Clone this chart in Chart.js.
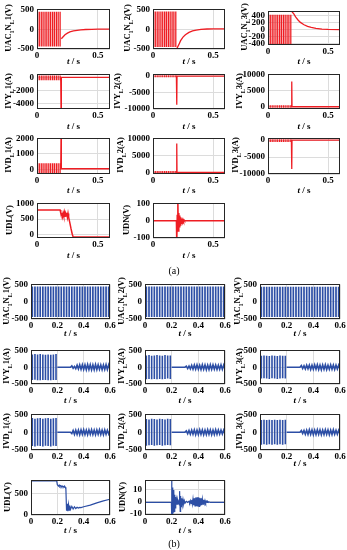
<!DOCTYPE html>
<html>
<head>
<meta charset="utf-8">
<script src="https://cdn.jsdelivr.net/npm/chart.js@4"></script>
<style>
  body { margin: 0; width: 347px; height: 550px; position: relative; background: #fff; overflow: hidden;
         font-family: "Liberation Serif", "Times New Roman", serif; font-weight: bold; color: #000; }
  canvas { position: absolute; }
  .yl { position: absolute; transform: translate(-50%, -50%) rotate(-90deg); white-space: nowrap; font-size: 8.5px; }
  .yl sub { font-size: 6px; }
  .xl { position: absolute; transform: translate(-50%, -50%); font-size: 9px; white-space: nowrap; }
  .cap { position: absolute; transform: translate(-50%, -50%); font-size: 10px; font-weight: normal; }
</style>
</head>
<body>
<script>
// ---------- (a) data ----------
// switching bursts before the fault: one [low, high] swing per time
const barTA = [0.004,0.019,0.035,0.05,0.066,0.081,0.097,0.112,0.128,0.143,0.159,0.174,0.19];
const uac1BarA = [-440, 440];
const uac2BarA = [-450, 450];
const uac3BarA = [-430, 430];
const ivy1BarA = [-450, 300];
const ivy2BarA = [-350, 250];
const ivy3BarA = [-300, 450];
const ivd1BarA = [-300, 400];
const ivd2BarA = [-300, 400];
const ivd3BarA = [-550, 250];

const uac1TailA = [[0.2,-240],[0.215,-190],[0.23,-140],[0.25,-100],[0.27,-70],[0.3,-45],[0.33,-28],[0.36,-17],[0.4,-8],[0.45,-3],[0.5,0],[0.6,0]];
const uac2TailA = [[0.2,-480],[0.215,-390],[0.23,-290],[0.25,-200],[0.27,-140],[0.3,-80],[0.33,-45],[0.36,-22],[0.4,-5],[0.45,5],[0.5,8],[0.6,8]];
const uac3TailA = [[0.2,520],[0.215,460],[0.23,370],[0.25,280],[0.27,210],[0.3,140],[0.33,95],[0.36,62],[0.4,35],[0.45,15],[0.5,6],[0.6,0]];
const ivy1TailA = [[0.195,0],[0.198,-6000],[0.2,0],[0.6,0]];
const ivy2TailA = [[0.195,0],[0.198,-8700],[0.2,0],[0.6,0]];
const ivy3TailA = [[0.195,0],[0.198,7800],[0.2,0],[0.6,0]];
const ivd1TailA = [[0.195,0],[0.198,2600],[0.2,40],[0.6,40]];
const ivd2TailA = [[0.195,0],[0.198,8500],[0.2,0],[0.6,0]];
const ivd3TailA = [[0.195,0],[0.198,-8500],[0.2,0],[0.6,0]];
const udlA = [[0,790],[0.19,790],[0.195,700],[0.2,620],[0.205,700],[0.21,580],[0.215,690],[0.22,600],[0.225,710],[0.23,570],[0.235,680],[0.24,600],[0.245,700],[0.25,560],[0.255,680],[0.26,560],[0.27,380],[0.28,190],[0.29,20],[0.297,-65],[0.6,-65]];
const udnA = [[0,0],[0.195,0],[0.198,-130],[0.202,30],[0.207,130],[0.211,-60],[0.215,45],[0.219,-35],[0.223,30],[0.227,-25],[0.231,20],[0.235,-15],[0.24,12],[0.245,-8],[0.25,6],[0.255,-4],[0.26,3],[0.265,-1],[0.27,0],[0.6,0]];

// ---------- (b) data ----------
const barTB = [0.01,0.03,0.05,0.07,0.09,0.11,0.13,0.15,0.17,0.19,0.21,0.23,0.25,0.27,0.29,0.31,0.33,0.35,0.37,0.39,0.41,0.43,0.45,0.47,0.49,0.51,0.53,0.55,0.57,0.59];
const uac1BarB = [-440, 440];
const uac2BarB = [-440, 440];
const uac3BarB = [-440, 430];

const barTIB = [0.01,0.03,0.05,0.07,0.09,0.11,0.13,0.15,0.17,0.19];
const ivy1LoB = [-380,-370,-390,-390,-380,-380,-390,-390,-380,-380];
const ivy1HiB = [380,390,380,390,380,370,380,370,380,390];
const ivy2LoB = [-360,-350,-360,-350,-360,-350,-360,-350,-340,-350];
const ivy2HiB = [350,360,340,350,360,350,340,360,350,350];
const ivy3LoB = [-340,-330,-340,-350,-330,-340,-350,-340,-330,-340];
const ivy3HiB = [340,350,340,330,350,340,330,350,340,340];
const ivd1LoB = [-390,-400,-380,-390,-400,-380,-390,-400,-380,-390];
const ivd1HiB = [400,380,390,400,380,390,400,380,390,400];
const ivd2LoB = [-380,-370,-360,-380,-370,-360,-380,-370,-360,-370];
const ivd2HiB = [370,360,380,370,360,380,370,360,380,370];
const ivd3LoB = [-350,-340,-350,-340,-350,-340,-350,-340,-350,-340];
const ivd3HiB = [340,350,340,350,340,350,340,350,340,350];

const tTailIB = [0.2,0.3,0.31,0.32,0.33,0.34,0.35,0.36,0.37,0.38,0.39,0.4,0.41,0.42,0.43,0.44,0.45,0.46,0.47,0.48,0.49,0.5,0.51,0.52,0.53,0.54,0.55,0.56,0.57,0.58,0.59,0.6];
const ivy1TailB = [0,0,40,-30,20,-45,60,-55,70,-65,75,-70,70,-75,80,-70,75,-80,70,-75,80,-70,75,-65,70,-75,65,-70,75,-70,70,-65];
const ivy2TailB = [0,0,30,-40,35,-50,55,-60,65,-60,70,-65,60,-70,75,-65,70,-75,65,-70,75,-65,70,-60,65,-70,60,-65,70,-65,60,-60];
const ivy3TailB = [0,0,50,-40,45,-55,60,-50,65,-70,60,-65,70,-60,75,-70,65,-75,70,-65,75,-70,60,-65,70,-60,65,-70,60,-55,60,-50];
const ivd1TailB = [0,0,-40,50,-60,55,-65,60,-70,65,-60,70,-65,60,-70,65,-60,70,-65,60,-70,65,-60,70,-65,60,-70,65,-60,55,-50,50];
const ivd2TailB = [0,0,35,-45,50,-55,60,-60,65,-70,60,-65,70,-60,65,-70,60,-65,70,-60,65,-70,60,-65,70,-60,65,-55,60,-50,55,-50];
const ivd3TailB = [0,0,45,-35,50,-60,55,-65,70,-60,65,-70,60,-65,70,-60,65,-70,60,-65,70,-60,65,-70,60,-65,70,-60,55,-60,50,-45];

const udlB = [[0,790],[0.195,790],[0.2,700],[0.205,680],[0.21,670],[0.215,690],[0.22,660],[0.225,680],[0.23,670],[0.235,650],[0.24,670],[0.245,660],[0.25,650],[0.255,670],[0.26,640],[0.265,600],[0.27,100],[0.275,260],[0.28,90],[0.285,240],[0.29,110],[0.295,220],[0.3,130],[0.31,200],[0.32,140],[0.33,190],[0.34,150],[0.35,180],[0.36,160],[0.37,175],[0.38,170],[0.4,190],[0.45,230],[0.5,280],[0.55,325],[0.6,365]];
const udnB = [[0,-0.5],[0.198,-0.5],[0.2,25],[0.202,-15],[0.205,12],[0.208,-11],[0.211,10],[0.214,-9],[0.217,10],[0.22,-8],[0.223,6],[0.226,-5],[0.229,4],[0.232,-3],[0.236,2],[0.24,-2],[0.245,1.5],[0.25,-1],[0.255,1],[0.258,-3],[0.261,9],[0.264,-8],[0.267,5],[0.27,-4],[0.275,3],[0.28,-2.5],[0.285,2],[0.29,-1.5],[0.295,1],[0.3,-1],[0.31,0.5],[0.32,-0.5],[0.33,0.5],[0.335,-0.8],[0.34,1],[0.345,-1.3],[0.35,1.6],[0.355,-2],[0.36,2.4],[0.365,-2.8],[0.37,3.1],[0.375,-3.4],[0.38,3.6],[0.385,-3.7],[0.39,3.8],[0.395,-3.8],[0.4,3.8],[0.405,-3.7],[0.41,3.5],[0.415,-3.3],[0.42,3],[0.425,-2.7],[0.43,2.4],[0.435,-2],[0.44,1.7],[0.445,-1.4],[0.45,1.1],[0.455,-0.9],[0.46,0.6],[0.465,-0.5],[0.47,0.3],[0.475,-0.4],[0.48,0],[0.49,-0.5],[0.5,-0.5],[0.6,-0.5]];

const xTicksA = [0, 0.5];
const xTicksB = [0, 0.2, 0.4, 0.6];

// ---------- drawing ----------
Chart.defaults.font.family = '"Liberation Serif", "Times New Roman", serif';
Chart.defaults.font.weight = 'bold';
Chart.defaults.font.size = 9;
Chart.defaults.color = '#000';

const red = '#ee1d23', blue = '#2c4ea5';
const YW = 40, PT = 6, PR = 10, XH = 14;

function zip(t, v) { return t.map((x, i) => ({ x, y: v[i] })); }
function pairs(p) { return p.map(([x, y]) => ({ x, y })); }
// one vertical swing per time, separated by a gap (null) so bursts stay apart
function bars(ts, lo, hi) {
  const out = [];
  ts.forEach((t, i) => {
    const a = Array.isArray(lo) ? lo[i] : lo, b = Array.isArray(hi) ? hi[i] : hi;
    out.push({ x: t, y: a }, { x: t, y: b }, { x: t, y: null });
  });
  return out;
}

const frame = {
  id: 'frame',
  afterDatasetsDraw(ch) {
    const a = ch.chartArea, c = ch.ctx;
    c.save();
    c.strokeStyle = '#262626';
    c.lineWidth = 1;
    c.strokeRect(Math.round(a.left) + 0.5, Math.round(a.top) + 0.5,
      Math.round(a.right - a.left) - 1, Math.round(a.bottom - a.top) - 1);
    c.restore();
  }
};

function addDiv(cls, html, x, y) {
  const d = document.createElement('div');
  d.className = cls;
  d.innerHTML = html;
  d.style.left = x + 'px';
  d.style.top = y + 'px';
  document.body.appendChild(d);
}

function panel(box, yLabel, labelX, pts, color, lw, yMin, yMax, yTicks, xTicks, xLabY) {
  const [l, t, r, b] = box;
  const w = YW + (r - l) + PR, h = PT + (b - t) + XH;
  const cv = document.createElement('canvas');
  cv.width = w; cv.height = h;
  cv.style.width = w + 'px'; cv.style.height = h + 'px';
  cv.style.left = (l - YW) + 'px'; cv.style.top = (t - PT) + 'px';
  document.body.appendChild(cv);

  new Chart(cv, {
    type: 'line',
    data: { datasets: [{ data: pts, borderColor: color, borderWidth: lw, pointRadius: 0, tension: 0, fill: false, spanGaps: false }] },
    options: {
      responsive: false, animation: false, events: [],
      layout: { padding: { top: PT, right: PR, left: 0, bottom: 0 } },
      plugins: { legend: { display: false }, tooltip: { enabled: false } },
      scales: {
        x: {
          type: 'linear', min: 0, max: 0.6,
          afterBuildTicks: (s) => { s.ticks = xTicks.map((v) => ({ value: v })); },
          afterFit: (s) => { s.height = XH; },
          grid: { color: '#dcdcdc', drawTicks: false },
          border: { display: false },
          ticks: { padding: 1, maxRotation: 0, autoSkip: false, callback: (v) => String(v) }
        },
        y: {
          type: 'linear', min: yMin, max: yMax,
          afterBuildTicks: (s) => { s.ticks = yTicks.map((v) => ({ value: v })); },
          afterFit: (s) => { s.width = YW; },
          grid: { color: '#dcdcdc', drawTicks: false },
          border: { display: false },
          ticks: { padding: 3, autoSkip: false, callback: (v) => String(v) }
        }
      }
    },
    plugins: [frame]
  });

  addDiv('yl', yLabel, labelX, (t + b) / 2);
  addDiv('xl', '<i>t</i> / s', (l + r) / 2, xLabY);
}

// (a)
const burstA = (lohi) => bars(barTA, lohi[0], lohi[1]);
panel([37, 7, 110, 49], 'UAC<sub>1</sub>N<sub>L</sub>1(V)', 9, burstA(uac1BarA).concat(pairs(uac1TailA)), red, 1.3, -500, 500, [-500, 0, 500], xTicksA, 61);
panel([153, 7, 225, 49], 'UAC<sub>1</sub>N<sub>L</sub>2(V)', 128, burstA(uac2BarA).concat(pairs(uac2TailA)), red, 1.3, -500, 500, [-500, 0, 500], xTicksA, 61);
panel([268, 9, 340, 45], 'UAC<sub>1</sub>N<sub>L</sub>3(V)', 245, burstA(uac3BarA).concat(pairs(uac3TailA)), red, 1.3, -450, 530, [-400, -200, 0, 200, 400], xTicksA, 61);

panel([37, 72, 110, 109], 'IVY<sub>L</sub>1(A)', 9, burstA(ivy1BarA).concat(pairs(ivy1TailA)), red, 1.3, -4900, 470, [-4000, -2000, 0], xTicksA, 126);
panel([153, 72, 225, 109], 'IVY<sub>L</sub>2(A)', 118, burstA(ivy2BarA).concat(pairs(ivy2TailA)), red, 1.3, -10000, 500, [-10000, -5000, 0], xTicksA, 126);
panel([268, 72, 340, 109], 'IVY<sub>L</sub>3(A)', 240, burstA(ivy3BarA).concat(pairs(ivy3TailA)), red, 1.3, -700, 10000, [0, 5000, 10000], xTicksA, 126);

panel([37, 136, 110, 174], 'IVD<sub>L</sub>1(A)', 9, burstA(ivd1BarA).concat(pairs(ivd1TailA)), red, 1.3, -300, 2000, [0, 1000, 2000], xTicksA, 190);
panel([153, 136, 225, 174], 'IVD<sub>L</sub>2(A)', 121, burstA(ivd2BarA).concat(pairs(ivd2TailA)), red, 1.3, -450, 10000, [0, 5000, 10000], xTicksA, 190);
panel([268, 136, 340, 174], 'IVD<sub>L</sub>3(A)', 236, burstA(ivd3BarA).concat(pairs(ivd3TailA)), red, 1.3, -10000, 500, [-10000, -5000, 0], xTicksA, 190);

panel([37, 201, 110, 238], 'UDL(V)', 9, pairs(udlA), red, 1.5, -100, 1000, [0, 500, 1000], xTicksA, 255);
panel([153, 201, 225, 238], 'UDN(V)', 126, pairs(udnA), red, 1.5, -100, 100, [-100, 0, 100], xTicksA, 255);

addDiv('cap', '(a)', 174, 270);

// (b)
panel([31, 282, 110, 319], 'UAC<sub>1</sub>N<sub>L</sub>1(V)', 7, bars(barTB, uac1BarB[0], uac1BarB[1]), blue, 1.7, -500, 500, [-500, 0, 500], xTicksB, 333);
panel([145, 282, 225, 319], 'UAC<sub>1</sub>N<sub>L</sub>2(V)', 122, bars(barTB, uac2BarB[0], uac2BarB[1]), blue, 1.7, -500, 500, [-500, 0, 500], xTicksB, 333);
panel([260, 282, 340, 319], 'UAC<sub>1</sub>N<sub>L</sub>3(V)', 238, bars(barTB, uac3BarB[0], uac3BarB[1]), blue, 1.7, -500, 500, [-500, 0, 500], xTicksB, 333);

const curB = (lo, hi, tail) => bars(barTIB, lo, hi).concat(zip(tTailIB, tail));
panel([31, 348, 110, 384], 'IVY<sub>L</sub>1(A)', 7, curB(ivy1LoB, ivy1HiB, ivy1TailB), blue, 1.6, -500, 500, [-500, 0, 500], xTicksB, 400);
panel([145, 348, 225, 384], 'IVY<sub>L</sub>2(A)', 122, curB(ivy2LoB, ivy2HiB, ivy2TailB), blue, 1.6, -500, 500, [-500, 0, 500], xTicksB, 400);
panel([260, 348, 340, 384], 'IVY<sub>L</sub>3(A)', 240, curB(ivy3LoB, ivy3HiB, ivy3TailB), blue, 1.6, -500, 500, [-500, 0, 500], xTicksB, 400);

panel([31, 412, 110, 450], 'IVD<sub>L</sub>1(A)', 7, curB(ivd1LoB, ivd1HiB, ivd1TailB), blue, 1.6, -500, 500, [-500, 0, 500], xTicksB, 463);
panel([145, 412, 225, 450], 'IVD<sub>L</sub>2(A)', 122, curB(ivd2LoB, ivd2HiB, ivd2TailB), blue, 1.6, -500, 500, [-500, 0, 500], xTicksB, 463);
panel([260, 412, 340, 450], 'IVD<sub>L</sub>3(A)', 240, curB(ivd3LoB, ivd3HiB, ivd3TailB), blue, 1.6, -500, 500, [-500, 0, 500], xTicksB, 463);

panel([31, 478, 110, 515], 'UDL(V)', 7, pairs(udlB), blue, 1.2, 0, 800, [0, 500], xTicksB, 530);
panel([145, 478, 225, 515], 'UDN(V)', 122, pairs(udnB), blue, 1.2, -11, 18, [-10, 0, 10], xTicksB, 530);

addDiv('cap', '(b)', 174, 543);
</script>
</body>
</html>
